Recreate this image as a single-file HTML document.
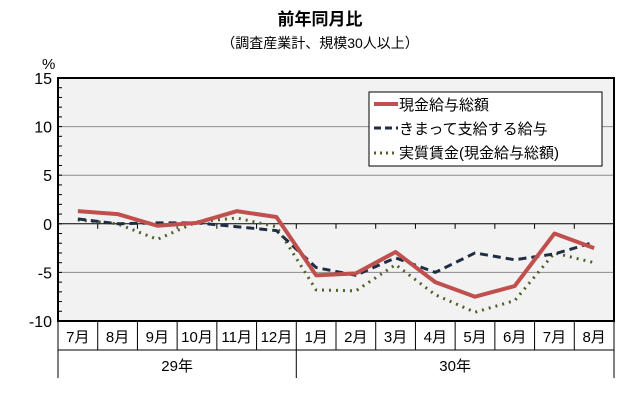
<!DOCTYPE html>
<html><head><meta charset="utf-8"><style>
body{margin:0;background:#fff;font-family:"Liberation Sans","Noto Sans CJK JP",sans-serif;}
svg text{font-family:"Liberation Sans","Noto Sans CJK JP",sans-serif;}
</style></head><body>
<svg id="c" width="638" height="405" viewBox="0 0 638 405">
<text x="320" y="25" text-anchor="middle" font-size="17" font-weight="bold">前年同月比</text>
<text x="320" y="48" text-anchor="middle" font-size="14">（調査産業計、規模30人以上）</text>
<text x="42" y="69" font-size="15">%</text>
<rect x="58" y="78" width="556" height="243" fill="#f2f2f2"/>
<g id="grid"></g>
<g id="xax"></g>
<g id="series"></g>
<rect x="58" y="78" width="556" height="243" fill="none" stroke="#000" stroke-width="2"/>
<g>
<rect x="369" y="92" width="233" height="74" fill="#fff" stroke="#000" stroke-width="1"/>
<line x1="374" y1="104" x2="398" y2="104" stroke="#c0504d" stroke-width="4"/>
<text x="399" y="110" font-size="15">現金給与総額</text>
<line x1="374" y1="128" x2="398" y2="128" stroke="#1f2d45" stroke-width="3" stroke-dasharray="7,4"/>
<text x="399" y="134" font-size="15">きまって支給する給与</text>
<line x1="374" y1="153" x2="398" y2="153" stroke="#4f6228" stroke-width="3" stroke-dasharray="2,4"/>
<text x="399" y="158" font-size="15">実質賃金(現金給与総額)</text>
</g>
</svg>
<script>
const months=["7月","8月","9月","10月","11月","12月","1月","2月","3月","4月","5月","6月","7月","8月"];
const total=[1.3,1.0,-0.2,0.1,1.3,0.7,-5.3,-5.1,-2.9,-6.0,-7.5,-6.4,-1.0,-2.5];
const regular=[0.5,0.0,0.1,0.1,-0.3,-0.7,-4.5,-5.3,-3.5,-5.0,-3.0,-3.7,-3.1,-1.9];
const real=[0.4,0.0,-1.6,0.2,0.6,-0.3,-6.8,-6.9,-4.2,-7.3,-9.1,-7.9,-3.0,-4.0];
const yTicks=[15,10,5,0,-5,-10];
const years=[{label:"29年",start:0,end:6},{label:"30年",start:6,end:14}];
const NS="http://www.w3.org/2000/svg";
const L=58,R=614,T=78,B=321,ymax=15,ymin=-10;
const cw=(R-L)/months.length;
const y=v=>T+(ymax-v)/(ymax-ymin)*(B-T);
const x=i=>L+cw*(i+0.5);
function mk(tag,attrs,parent){const e=document.createElementNS(NS,tag);for(const k in attrs)e.setAttribute(k,attrs[k]);parent.appendChild(e);return e;}
const g=document.getElementById('grid'),xa=document.getElementById('xax'),sg=document.getElementById('series');
yTicks.forEach(t=>{
  if(t!==ymax&&t!==ymin&&t!==0){const l=mk('line',{x1:L,x2:R,y1:y(t),y2:y(t),stroke:'#8c8c8c','stroke-width':1},g);
  
  }
  const tx=mk('text',{x:L-6,y:y(t)+6,'text-anchor':'end','font-size':16},g);tx.textContent=t;
  
  
});
for(let v=ymin;v<=ymax;v++){mk('line',{x1:L,x2:L+4,y1:y(v),y2:y(v),stroke:'#000','stroke-width':1},g);}
const z=mk('line',{x1:L,x2:R,y1:y(0),y2:y(0),stroke:'#000','stroke-width':1},g);


months.forEach((m,i)=>{
  mk('line',{x1:L+cw*i,x2:L+cw*i,y1:y(0),y2:y(0)+5,stroke:'#000'},g);
  const isYear=years.some(yr=>yr.start===i);
  mk('line',{x1:L+cw*i,x2:L+cw*i,y1:B,y2:isYear?378:350,stroke:'#000'},xa);
  const t=mk('text',{x:x(i),y:342,'text-anchor':'middle','font-size':15},xa);t.textContent=m;
  
  
});
mk('line',{x1:R,x2:R,y1:B,y2:378,stroke:'#000'},xa);
mk('line',{x1:L,x2:R,y1:350,y2:350,stroke:'#000'},xa);
years.forEach(yr=>{const t=mk('text',{x:(x(yr.start)+x(yr.end-1))/2,y:371,'text-anchor':'middle','font-size':15},xa);t.textContent=yr.label;
  
  });
function line(arr,color,w,dash,name){
  const p=mk('polyline',{points:arr.map((v,i)=>x(i)+','+y(v)).join(' '),fill:'none',stroke:color,'stroke-width':w,'stroke-dasharray':dash,'stroke-linejoin':'round'},sg);
  
  
}
line(real,'#4f6228',3,'2,5','line-real-wage');
line(regular,'#1f2d45',3,'8,5','line-regular-pay');
line(total,'#c0504d',4,'none','line-total-pay');
</script>
</body></html>
